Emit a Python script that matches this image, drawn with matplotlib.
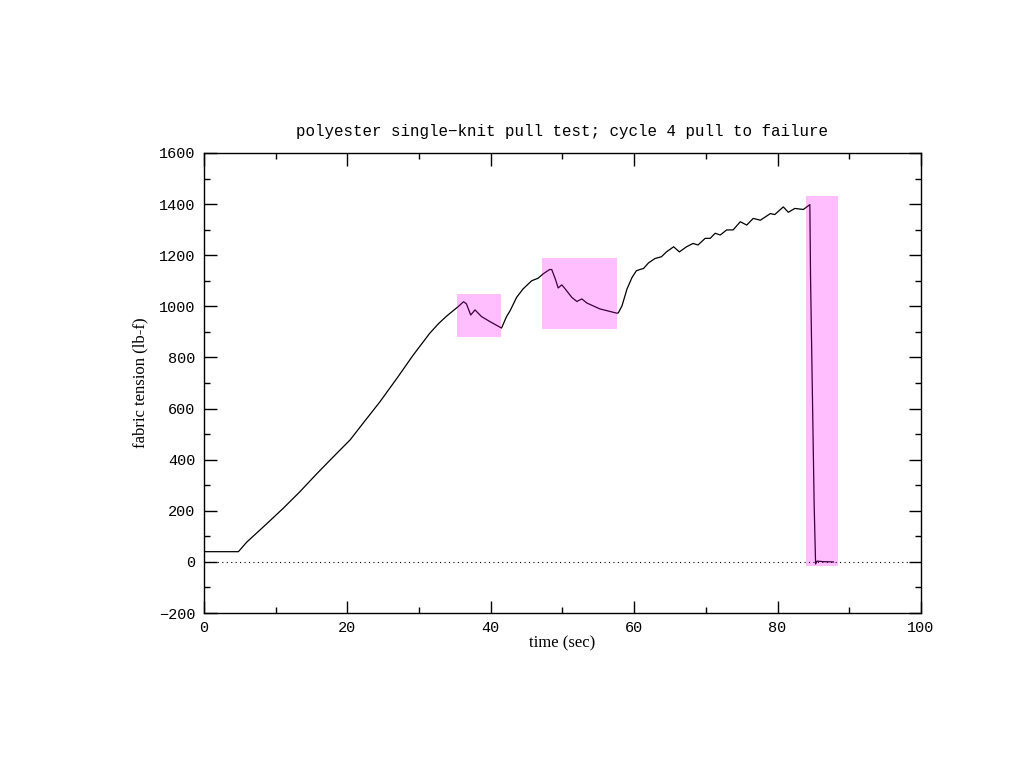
import matplotlib
matplotlib.use("Agg")
import matplotlib.pyplot as plt
from matplotlib.patches import Rectangle
from matplotlib.ticker import MultipleLocator

# tension trace
time_sec = [0, 4.8, 5.95, 8.74, 11.06, 13.39, 15.7, 18.0, 20.4, 22.2,
            24.5, 26.9, 29.2, 31.5, 32.7, 33.85, 35.5, 36.2, 36.6, 37.2, 37.8,
            38.7, 39.9, 41.5, 42.2, 42.7, 43.6, 44.5, 45.7, 46.6, 47.3,
            48.2, 48.5, 49.0, 49.4, 49.9, 50.3, 51.3, 52.0, 52.7, 53.4,
            55.2, 56.2, 57.6, 57.8, 58.3, 59.0, 59.7, 60.3, 60.8, 61.3,
            62.0, 62.9, 63.8, 64.5, 65.5, 66.3, 67.3, 68.2, 68.9, 69.9,
            70.6, 71.3, 72.0, 72.9, 73.8, 74.8, 75.7, 76.6, 77.6, 79.0,
            79.6, 80.8, 81.5, 82.4, 83.6, 84.5, 84.6, 84.7, 84.9, 85.1,
            85.3, 85.5, 86.4, 87.8]
tension = [40, 40, 77, 149, 210, 275, 344, 410, 478, 543,
           625, 718, 810, 895, 932, 962, 1000, 1018, 1010, 966, 986,
           960, 940, 915, 960, 983, 1035, 1068, 1100, 1110, 1127,
           1144, 1144, 1107, 1072, 1084, 1071, 1035, 1019, 1029, 1013,
           990, 983, 973, 975, 1002, 1068, 1113, 1139, 1144, 1148,
           1170, 1187, 1194, 1213, 1233, 1213, 1233, 1246, 1240, 1266,
           1266, 1286, 1279, 1299, 1299, 1331, 1318, 1344, 1337, 1363,
           1359, 1389, 1368, 1383, 1379, 1398, 1105, 930, 577, 225,
           -8, 3, 1, 0]

# highlighted regions
box_x0 = [35.3, 47.1, 84.0]
box_x1 = [41.4, 57.6, 88.4]
box_y0 = [880, 910, -15]
box_y1 = [1050, 1188, 1430]

mono = "Liberation Mono"
serif = "Liberation Serif"

fig = plt.figure(figsize=(10.24, 7.68), dpi=100)
ax = fig.add_axes([0.1992, 0.2018, 0.7002, 0.599])

ax.axhline(0, color="black", lw=0.8, ls=(0, (1, 3)), zorder=1)
ax.plot(time_sec, tension, color="black", lw=0.9, zorder=2)

for x0, x1, y0, y1 in zip(box_x0, box_x1, box_y0, box_y1):
    ax.add_patch(Rectangle((x0, y0), x1 - x0, y1 - y0, facecolor="#FF00FF",
                           alpha=0.25, edgecolor="none", zorder=3))

ax.set_xlim(0, 100)
ax.set_ylim(-200, 1600)
ax.xaxis.set_major_locator(MultipleLocator(20))
ax.xaxis.set_minor_locator(MultipleLocator(10))
ax.yaxis.set_major_locator(MultipleLocator(200))
ax.yaxis.set_minor_locator(MultipleLocator(100))
ax.tick_params(which="both", direction="in", top=True, right=True, width=1)
ax.tick_params(which="major", length=9, pad=6)
ax.tick_params(which="minor", length=4.5)
for s in ax.spines.values():
    s.set_linewidth(1)

for lab in ax.get_xticklabels() + ax.get_yticklabels():
    lab.set_fontfamily(mono)
    lab.set_fontsize(11)

ax.set_title("polyester single\u2212knit pull test; cycle 4 pull to failure",
             fontfamily=mono, fontsize=11.4, pad=12)
ax.set_xlabel("time (sec)", fontfamily=serif, fontsize=12, labelpad=0)
ax.set_ylabel("fabric tension (lb-f)", fontfamily=serif, fontsize=12, labelpad=8)

fig.savefig("out.png", dpi=100)
